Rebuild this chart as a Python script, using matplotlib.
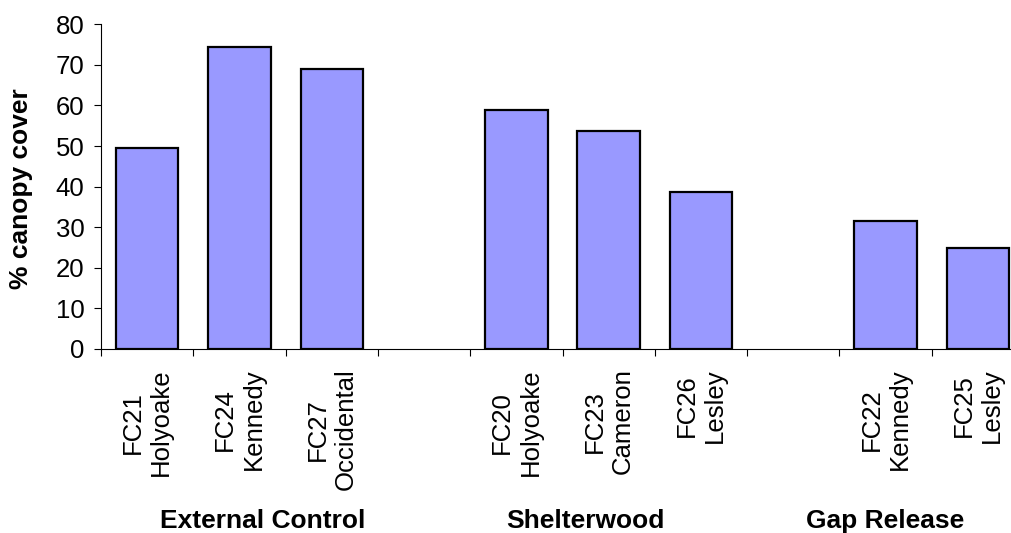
import matplotlib
matplotlib.use("Agg")
import matplotlib.pyplot as plt
import matplotlib.transforms as mtransforms

plt.rcParams['font.family'] = ['Liberation Sans', 'DejaVu Sans']

# Data
site_labels = ["FC21\nHolyoake", "FC24\nKennedy", "FC27\nOccidental",
               "FC20\nHolyoake", "FC23\nCameron", "FC26\nLesley",
               "FC22\nKennedy", "FC25\nLesley"]
canopy_cover = [49.5, 74.5, 69.1, 59.0, 53.8, 38.7, 31.5, 24.8]
slot_index = [0, 1, 2, 4, 5, 6, 8, 9]
groups = ["External Control", "Shelterwood", "Gap Release"]
group_label_x = [1.25, 4.75, 8.0]
y_ticks = [0, 10, 20, 30, 40, 50, 60, 70, 80]

W, H = 1011, 533
fig = plt.figure(figsize=(W / 100, H / 100), dpi=100)
left_px, right_px = 101, 1024
zero_px, top_px = 349, 24.3
ax = fig.add_axes([left_px / W, (H - zero_px) / H,
                   (right_px - left_px) / W, (zero_px - top_px) / H])

ax.bar(slot_index, canopy_cover, width=0.675, color="#9999FF",
       edgecolor="black", linewidth=1.6, zorder=3)

ax.set_xlim(-0.5, 9.5)
ax.set_ylim(0, 80)
ax.set_yticks(y_ticks)
ax.set_yticklabels([str(v) for v in y_ticks], fontsize=18.5)
ax.tick_params(axis='y', direction='out', length=5, width=0.8, pad=7)

# boundaries as major ticks, labels on minor ticks
ax.set_xticks([i - 0.5 for i in range(11)])
ax.set_xticklabels([])
ax.tick_params(axis='x', which='major', direction='out', length=5, width=0.8)
ax.set_xticks(slot_index, minor=True)
ax.set_xticklabels(site_labels, minor=True, rotation=90, fontsize=18.5,
                   va='top', ha='center', multialignment='center',
                   linespacing=1.22)
ax.tick_params(axis='x', which='minor', length=0, pad=14)

for s in ['top', 'right']:
    ax.spines[s].set_visible(False)
for s in ['left', 'bottom']:
    ax.spines[s].set_linewidth(0.8)

ax.set_ylabel("% canopy cover", fontsize=19, fontweight='bold')
ax.yaxis.set_label_coords(-0.0737, 0.493)

trans = mtransforms.blended_transform_factory(ax.transData, fig.transFigure)
for name, gx in zip(groups, group_label_x):
    ax.text(gx, (H - 528) / H, name, transform=trans, ha='center',
            va='baseline', fontsize=19, fontweight='bold')

fig.savefig("out.png", dpi=100)
